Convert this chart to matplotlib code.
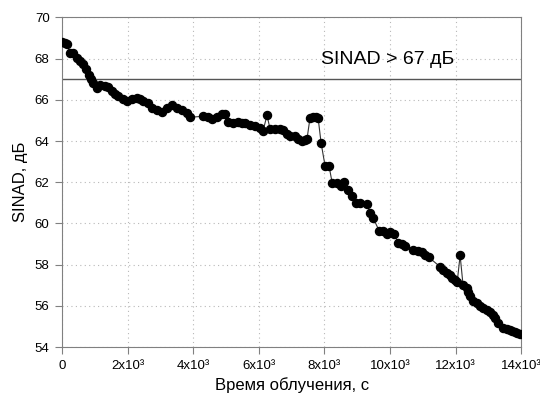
import matplotlib.pyplot as plt

plt.rcParams['font.family'] = ['Liberation Sans', 'DejaVu Sans']

# time, s
time_s = [0, 90, 150, 240, 340, 460, 550, 640, 730, 820, 880, 950, 1070, 1160,
          1310, 1400, 1520, 1620, 1710, 1860, 1980, 2140, 2290, 2380, 2470, 2620,
          2750, 2900, 3050, 3200, 3360, 3510, 3660, 3810, 3900, 4300, 4450, 4580,
          4730, 4880, 4970, 5060, 5220, 5370, 5490, 5580, 5730, 5890, 6040, 6130,
          6250, 6340, 6500, 6650, 6740, 6860, 6950, 7110, 7200, 7320, 7410, 7470,
          7560, 7660, 7750, 7810, 7900, 8020, 8140, 8240, 8390, 8510, 8600, 8720,
          8850, 8970, 9090, 9300, 9390, 9490, 9670, 9790, 9910, 10000, 10130, 10250,
          10370, 10460, 10710, 10860, 10980, 11070, 11190, 11530, 11620, 11740,
          11830, 11900, 11990, 12050, 12140, 12230, 12350, 12380, 12440, 12540,
          12660, 12750, 12840, 12960, 13050, 13150, 13210, 13300, 13450, 13570,
          13660, 13730, 13820, 13880, 13970]

# SINAD, dB
sinad = [68.8, 68.75, 68.7, 68.25, 68.25, 68.05, 67.9, 67.75, 67.5, 67.2, 67.0,
         66.8, 66.55, 66.7, 66.65, 66.6, 66.45, 66.3, 66.2, 66.05, 65.95, 66.05,
         66.1, 66.05, 65.95, 65.85, 65.6, 65.5, 65.4, 65.6, 65.75, 65.6, 65.5,
         65.35, 65.15, 65.2, 65.15, 65.05, 65.15, 65.3, 65.3, 64.9, 64.85, 64.9,
         64.85, 64.85, 64.8, 64.75, 64.65, 64.5, 65.25, 64.6, 64.6, 64.6, 64.55,
         64.35, 64.25, 64.25, 64.1, 64.0, 64.05, 64.1, 65.1, 65.15, 65.15, 65.1,
         63.9, 62.8, 62.8, 61.95, 61.95, 61.8, 62.0, 61.6, 61.35, 61.0, 61.0,
         60.95, 60.5, 60.25, 59.65, 59.65, 59.5, 59.6, 59.5, 59.05, 59.0, 58.9,
         58.7, 58.65, 58.6, 58.45, 58.35, 57.9, 57.75, 57.6, 57.5, 57.35, 57.25,
         57.15, 58.45, 57.0, 56.85, 56.65, 56.5, 56.25, 56.15, 56.0, 55.9, 55.8,
         55.7, 55.55, 55.4, 55.15, 54.95, 54.9, 54.85, 54.8, 54.75, 54.7, 54.65]

threshold = 67
threshold_label = 'SINAD > 67 дБ'

x_ticks = list(range(0, 14001, 2000))
x_tick_labels = ['0', '2x10³', '4x10³', '6x10³', '8x10³', '10x10³', '12x10³', '14x10³']
y_ticks = list(range(54, 71, 2))

fig = plt.figure(figsize=(5.4, 3.94), dpi=100)
ax = fig.add_axes([0.115, 0.119, 0.85, 0.837])

ax.plot(time_s, sinad, color='#333333', linewidth=0.8, marker='o',
        markersize=5.8, markerfacecolor='black', markeredgecolor='black', zorder=3)
ax.axhline(threshold, color='#555555', linewidth=1.0, zorder=2)
ax.text(7900, 67.95, threshold_label, fontsize=14, va='center', ha='left')

ax.set_xlim(0, 14000)
ax.set_ylim(54, 70)
ax.set_xticks(x_ticks)
ax.set_xticklabels(x_tick_labels)
ax.set_yticks(y_ticks)
ax.tick_params(direction='out', length=5, color='#808080', labelsize=9.5, pad=4)
ax.grid(True, linestyle=(0, (1, 3)), color='#b8b8b8', linewidth=0.8)
for s in ax.spines.values():
    s.set_color('#808080')

ax.set_xlabel('Время облучения, с', fontsize=12)
ax.set_ylabel('SINAD, дБ', fontsize=12, labelpad=5)

fig.savefig('out.png', dpi=100)
